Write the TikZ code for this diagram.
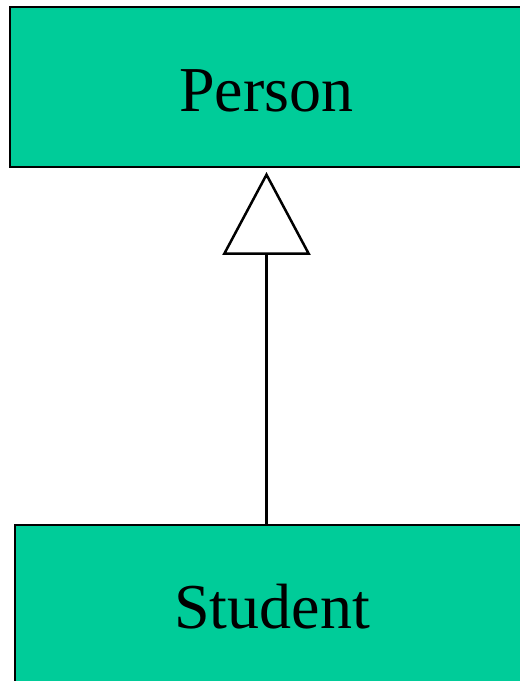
\documentclass[tikz,border=0pt]{standalone}
\usepackage{fontspec}
\setmainfont{Liberation Serif}
\usepackage{tikz}
\usetikzlibrary{arrows.meta}
\definecolor{UmlGreen}{RGB}{0,204,153}
\definecolor{UmlDark}{RGB}{0,0,0}

\tikzset{
  classbox/.style={draw=UmlDark,fill=UmlGreen,rectangle,minimum width=514pt,
    inner sep=0pt,font=\fontsize{64}{70}\selectfont},
  inherits/.style={-{Triangle[open,length=83pt,width=88pt]},line width=2.5pt,UmlDark}
}

\begin{document}
\begin{tikzpicture}[x=1pt,y=1pt]
  \useasboundingbox (0,0) rectangle (520,681);
  \clip (0,0) rectangle (520,681);

  % Classes
  \node[classbox,line width=2pt,minimum height=159.5pt,text height=50pt] (person) at (266.5,593.75) {Person};
  \node[classbox,line width=1.5pt,minimum height=163pt] (student) at (272,74.5) {Student};

  % Generalisation
  \draw[inherits,shorten >=4pt] (student.north -| person.south) -- (person.south);
\end{tikzpicture}
\end{document}
